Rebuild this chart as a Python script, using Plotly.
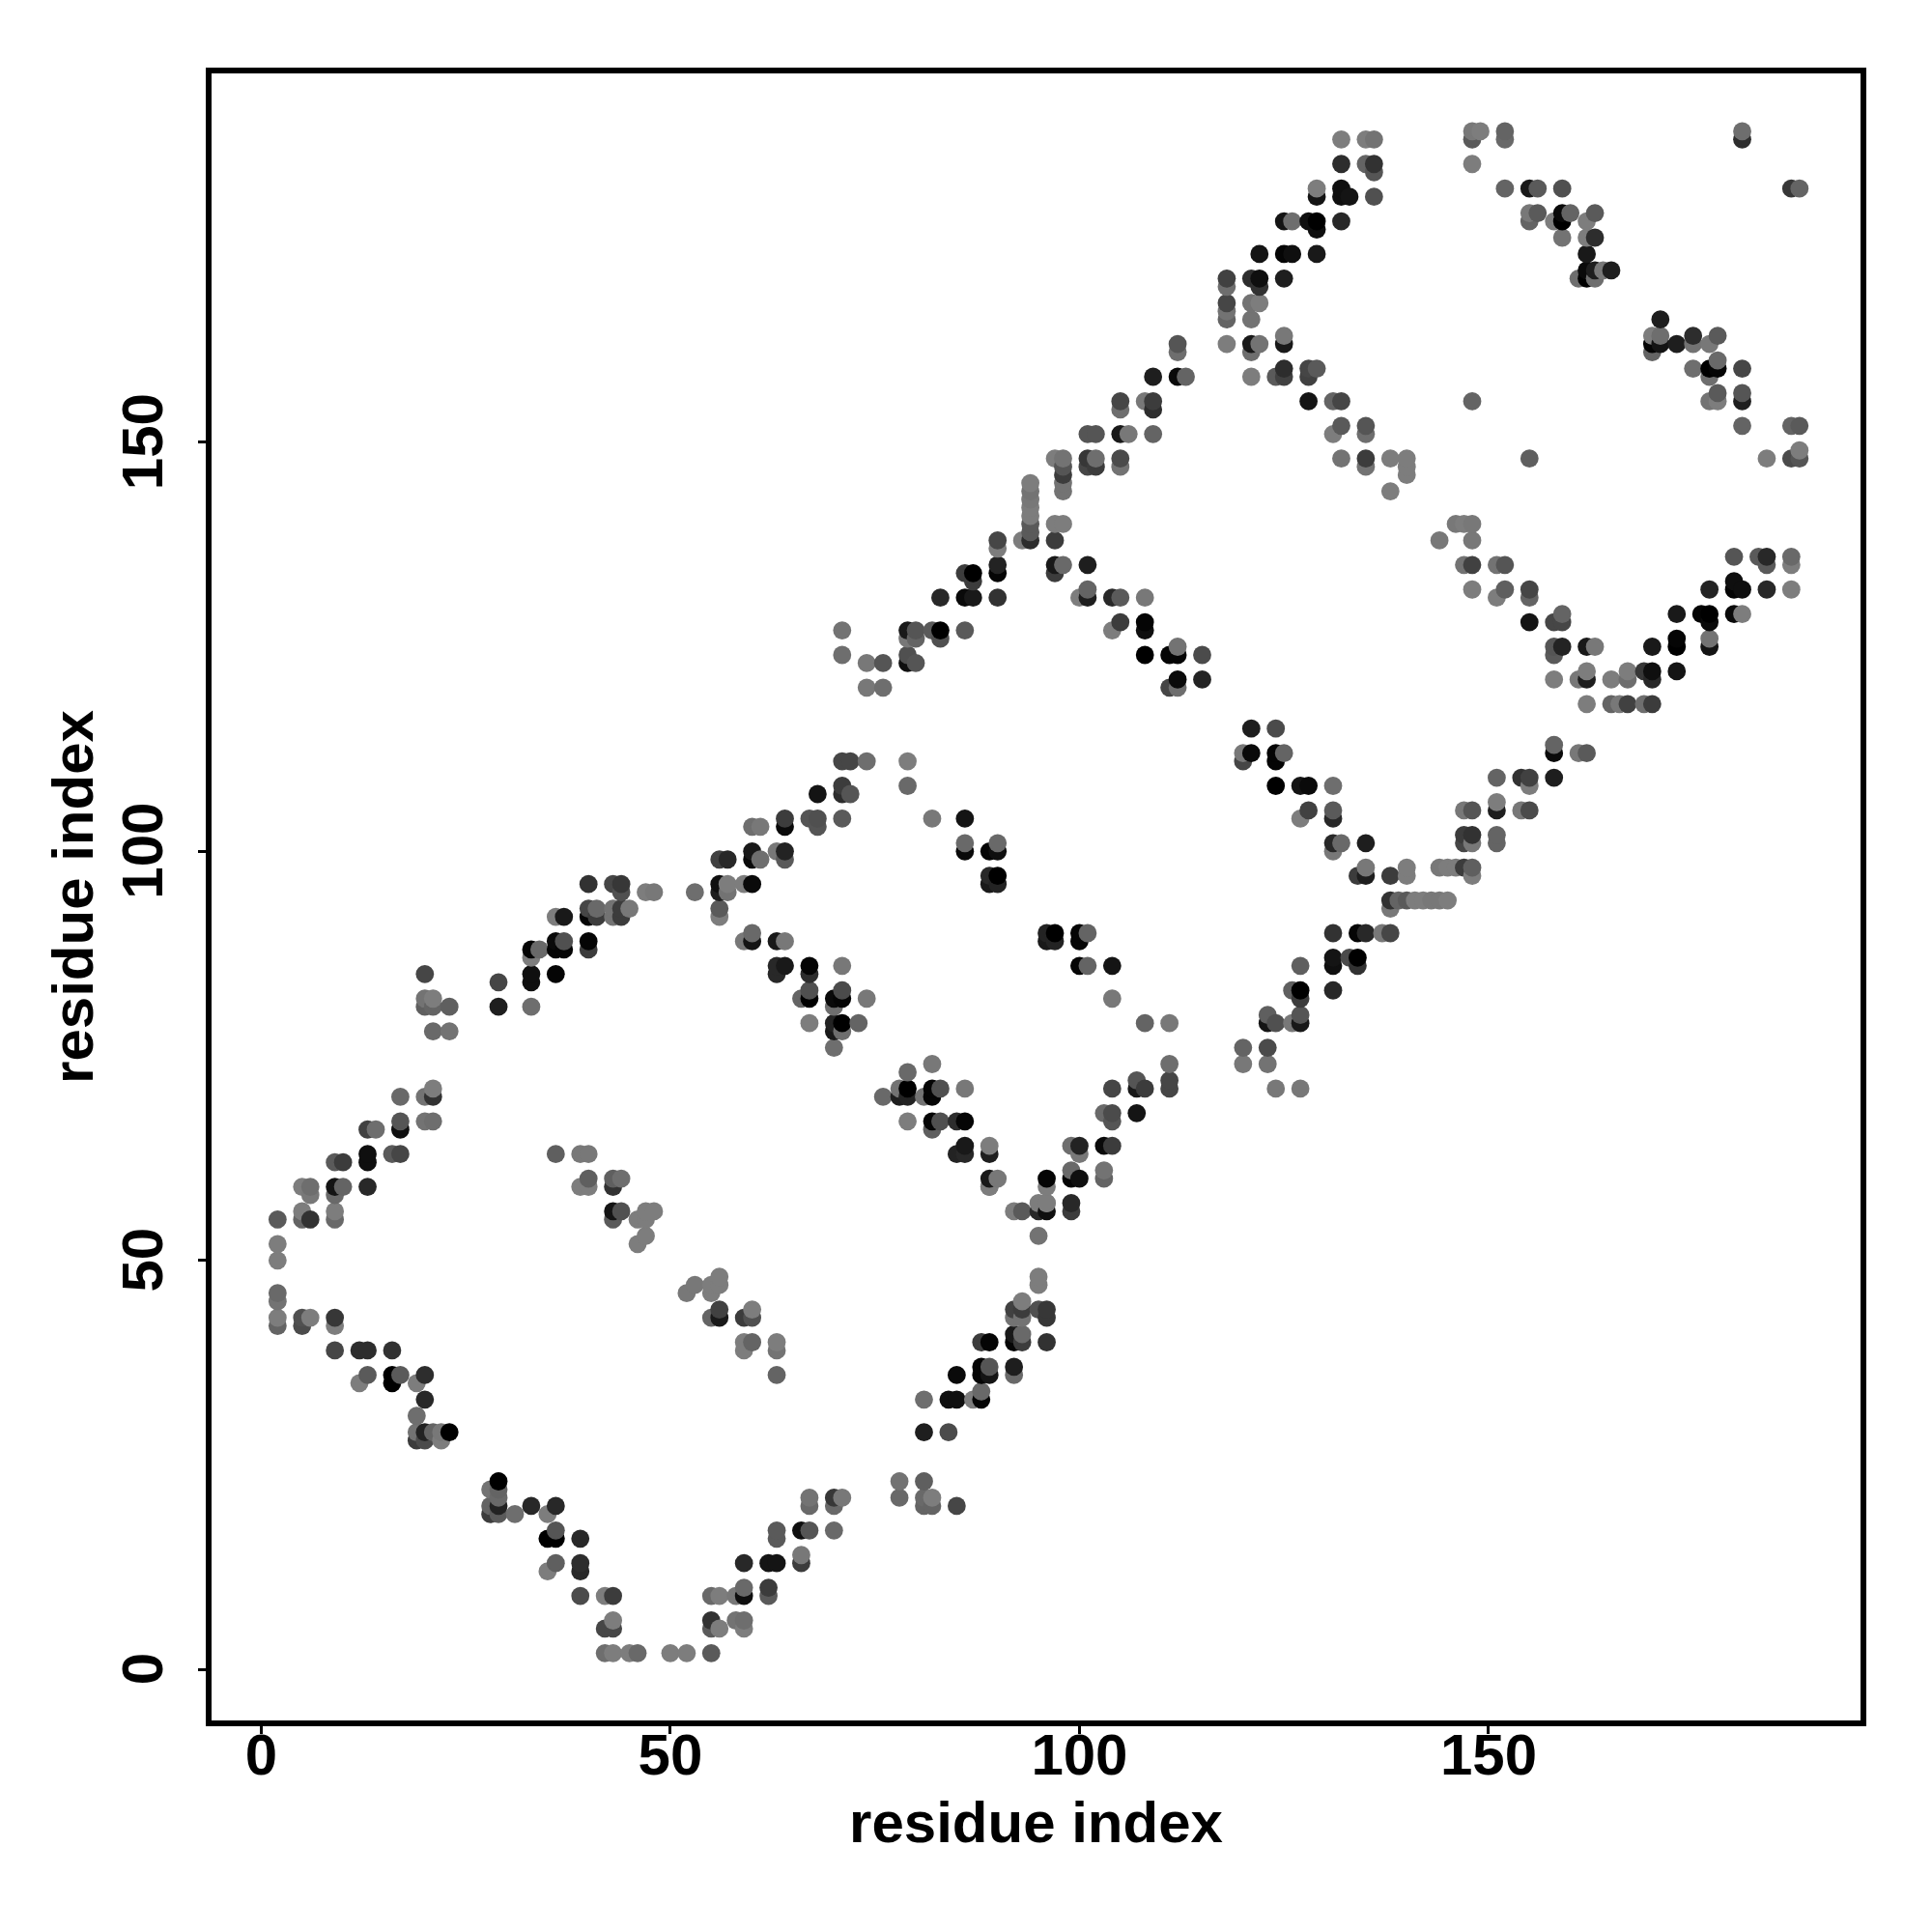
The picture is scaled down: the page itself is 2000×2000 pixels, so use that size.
import numpy as np
import plotly.graph_objects as go

residue_x = [
 42,43,45,46,50,52,55,
 42,43,43,39,42,43,55,56,58,59,59,62,62,55,55,56,58,59,59,
 35,36,39,39,35,36,36,39,
 28,29,31,35,28,29,33,36,29,28,29,29,
 23,21,20,19,22,19,20,22,19,20,
 12,16,19,13,16,17,20,9,12,13,16,
 2,5,9,2,5,6,9,2,2,2,2,2,5,6,9,5,9,
 43,44,43,46,47,48,47,47,46,
 52,53,55,55,56,56,55,56,56,
 59,60,60,59,60,59,63,63,63,
 78,78,81,81,81,82,82,85,
 81,84,81,84,85,87,88,88,
 85,88,88,89,89,92,92,
 88,89,92,92,93,93,96,
 92,92,93,93,93,95,96,96,
 95,95,95,92,93,95,96,95,96,99,99,
 59,62,63,66,66,63,63,66,67,70,67,67,70,71,70,
 5,6,6,9,10,9,13,9,10,13,13,16,17,
 13,14,17,17,17,20,21,20,21,21,
 21,23,20,21,23,20,21,20,
 29,29,33,33,33,33,33,34,36,36,36,37,37,40,40,
 36,37,40,40,41,41,43,43,44,44,45,
 40,43,44,44,47,48,53,
 56,56,57,57,56,56,56,57,
 36,39,40,40,39,40,43,44,43,
 71,72,74,79,79,68,71,71,72,
 67,68,68,71,64,64,60,61,
 60,60,61,63,64,64,59,60,
 82,86,86,86,89,90,90,89,90,89,90,
 96,97,96,97,100,101,100,100,101,104,104,108,111,
 111,111,111,107,107,108,104,107,103,104,104,
 103,104,99,100,100,103,103,99,99,100,96,96,96,89,
 59,60,60,63,64,63,64,63,67,67,71,
 66,67,67,70,71,71,74,70,
 67,70,71,70,71,73,70,
 79,82,76,78,78,79,79,81,82,82,83,86,
 79,82,83,82,85,86,85,86,86,89,89,89,90,89,
 120,120,123,123,124,127,123,123,124,126,127,127,126,127,127,127,
 121,124,120,121,120,124,124,125,
 124,127,128,131,127,128,131,131,
 131,132,131,135,134,135,135,138,140,140,
 138,138,139,140,141,142,143,144,145,
 144,145,146,147,148,148,
 147,147,148,148,151,151,
 147,148,151,151,154,155,
 151,154,155,155,158,158,158,161,162,
 162,165,166,167,169,170,
 131,134,135,137,138,131,131,133,134,134,131,
 71,71,74,76,74,76,79,79,80,
 79,79,80,80,82,83,83,86,
 83,86,87,90,86,87,87,90,90,90,90,
 93,94,94,94,94,94,94,94,94,
 97,97,98,97,98,97,101,
 100,101,101,104,105,108,
 104,105,108,108,108,111,112,112,115,
 111,112,112,115,
 101,102,105,106,109,97,98,98,98,98,98,
 101,101,102,102,105,105,
 105,105,108,109,109,109,112,113,112,112,
 132,135,136,132,135,136,136,
 129,129,132,132,133,136,
 125,126,128,129,129,132,
 122,125,126,129,
 118,118,121,122,122,125,
 118,118,118,121,122,121,
 118,121,122,121,125,125,
 121,124,125,125,128,128,129,
 128,131,132,132,131,135,135,
 132,135,135,138,140,140,140,138,
 148,148,149,152,152,148,
 152,155,156,159,
 155,156,155,158,159,159,160,162,163,
 159,162,163,162,162,161,162,163,163,164,165,
 148,155,181,181,187,188,
 171,170,171,170,171,173,175,175,177,178,170,
 175,177,178,178,181,177,
 177,178,178,181,181,
 181,187,188,184,187,188,188,
 146,147,148,144,148,
 147,148,151,152,
 148,151,152,155,155,
 155,158,159,159,
 158,159,158,162,163,
 158,161,162,162,165,167,167,
 169,170,170,173,
 170,173,173,
 173,176,177,177,177,177,
 177,180,180,181,184,187,
 180,181,
 180,183,184,184,187,187,
]
residue_y = [
 2,2,2,2,2,2,2,
 5,5,6,9,9,9,9,9,9,9,10,10,9,6,5,5,6,6,5,
 12,13,12,13,16,16,17,16,
 19,19,19,19,20,20,20,20,21,22,22,23,
 29,29,29,29,29,28,28,28,31,33,
 35,35,35,36,36,36,36,39,39,39,39,
 42,42,42,43,43,43,43,45,46,50,52,55,55,55,55,56,56,
 56,56,55,55,56,56,55,53,52,
 46,47,46,47,48,47,43,43,44,
 43,43,44,40,40,39,40,39,36,
 23,21,23,21,20,21,20,20,
 29,29,33,33,33,33,33,34,
 36,37,36,36,37,37,36,
 40,40,41,40,40,41,40,
 43,44,43,44,45,44,44,43,
 48,47,53,56,56,56,56,57,57,57,56,
 13,13,13,13,14,17,16,17,17,17,21,20,21,21,20,
 59,59,58,59,59,58,59,62,62,63,62,63,63,
 66,66,66,67,70,67,67,70,70,71,
 78,78,81,81,81,82,82,85,
 81,84,81,84,85,87,88,88,85,88,89,88,89,88,89,
 92,92,92,93,92,93,92,93,93,92,93,
 96,96,96,95,95,95,95,
 95,96,96,95,93,92,99,99,
 63,63,63,60,59,59,60,60,59,
 111,111,111,111,108,107,108,107,107,
 104,104,103,104,104,103,103,103,
 100,99,99,100,100,99,96,96,
 104,104,101,100,100,100,101,97,97,96,96,
 90,90,89,89,90,90,89,86,86,86,82,79,79,
 74,72,71,72,71,71,71,68,68,68,67,
 64,64,64,64,63,61,60,61,60,60,60,59,57,59,
 89,89,90,89,89,86,86,85,86,85,86,
 82,82,83,82,82,83,82,81,
 79,79,79,78,78,79,76,
 73,74,70,71,70,71,70,70,71,70,71,71,
 67,67,67,66,67,67,63,64,63,64,63,60,60,59,
 76,74,76,74,71,71,80,79,79,79,80,79,83,83,82,86,
 115,115,112,112,111,112,111,112,
 108,108,108,108,104,105,104,105,
 101,101,100,101,97,97,98,97,98,97,
 94,93,94,94,94,94,94,94,94,
 98,98,98,98,98,97,
 102,101,101,102,102,101,
 105,105,105,106,105,105,
 109,109,109,108,109,112,113,112,112,
 118,118,118,118,118,118,
 90,90,90,90,90,87,86,87,87,86,83,
 127,124,123,123,120,120,123,124,123,
 127,126,127,126,127,127,126,127,
 131,131,131,131,134,134,133,134,135,138,137,
 138,138,139,140,141,142,143,144,145,
 138,140,140,135,135,134,135,
 131,131,132,131,131,131,
 127,128,128,127,124,124,124,125,124,
 120,121,120,121,
 151,151,151,151,151,148,147,146,145,144,148,
 148,147,148,147,148,147,
 155,154,155,155,154,158,158,158,162,161,
 187,187,187,184,184,184,183,
 181,180,181,180,180,180,
 177,177,177,177,176,177,
 173,173,173,173,
 170,169,170,170,169,170,
 167,166,165,167,167,165,
 162,162,162,161,162,163,
 158,158,158,159,158,159,159,
 155,155,155,152,151,152,151,
 148,148,147,148,148,147,146,144,
 188,187,188,188,187,184,
 181,181,181,181,
 178,178,177,177,178,177,178,177,178,
 175,175,175,173,171,170,170,170,171,171,171,
 155,148,188,187,181,181,
 165,163,163,162,162,162,163,162,162,163,161,
 159,159,159,160,159,158,
 155,156,155,156,155,
 152,152,152,148,148,148,149,
 140,140,140,138,138,
 135,135,135,135,
 132,131,132,132,131,
 128,128,128,129,
 125,125,124,125,125,
 121,121,121,122,121,121,122,
 122,122,121,122,
 125,125,126,
 129,129,129,128,126,125,
 132,132,133,132,132,132,
 129,129,
 136,136,136,135,136,135,
]
gray_level = [
 110,125,125,105,125,125,90,
 70,70,125,75,125,60,105,125,120,15,105,60,90,50,90,125,115,110,125,
 125,95,40,45,0,0,85,40,
 60,90,110,125,100,35,40,40,105,115,100,0,
 0,100,35,115,120,60,75,125,110,40,
 125,0,125,90,0,90,45,70,45,45,50,
 100,75,125,125,80,125,55,115,105,125,125,90,100,50,105,125,125,
 20,80,90,125,125,125,125,125,125,
 120,120,125,125,125,125,100,25,65,
 60,80,125,125,100,125,125,115,100,
 115,105,95,105,100,125,100,70,
 30,75,110,15,15,125,5,105,
 10,5,5,20,85,30,105,
 60,5,25,5,60,105,50,
 115,65,115,60,125,80,55,55,
 125,125,115,125,90,40,15,125,125,40,60,
 40,20,20,60,120,90,90,15,85,105,115,105,55,120,105,
 125,110,120,20,100,105,40,90,60,15,15,90,70,
 65,110,15,85,105,115,110,115,50,125,
 105,115,95,100,95,115,125,70,
 30,70,110,15,15,125,5,105,5,5,10,5,80,60,5,
 125,25,5,70,60,105,115,115,60,60,120,
 50,70,55,80,125,120,110,
 30,15,125,115,90,125,65,40,
 95,120,120,95,125,125,95,110,50,
 70,70,110,125,105,20,60,45,85,
 85,80,85,90,60,10,110,120,
 25,10,110,120,35,90,125,10,
 120,20,105,10,5,15,105,40,0,25,35,
 35,0,25,35,5,100,5,5,100,20,120,100,120,
 110,70,70,85,25,60,70,20,105,75,85,
 10,60,110,35,120,115,100,105,5,15,5,125,125,125,
 120,20,105,25,120,40,25,40,5,45,120,
 100,0,80,10,5,75,120,110,
 125,35,0,25,110,100,110,
 105,120,105,115,30,0,35,115,5,5,80,120,
 125,5,80,95,45,5,35,25,40,125,30,25,120,125,
 100,120,75,115,120,120,95,20,80,120,85,25,95,0,60,95,
 30,75,120,10,70,5,5,100,
 0,20,10,110,125,65,40,90,
 40,105,120,30,60,30,120,60,125,125,
 50,120,100,90,125,125,120,120,125,
 120,125,125,60,95,125,
 60,70,120,50,100,100,
 120,85,30,125,120,75,
 100,50,65,125,30,10,100,120,90,
 125,100,120,65,110,60,
 50,5,40,120,70,20,15,75,0,50,40,
 115,110,120,85,120,110,15,80,85,
 25,120,85,100,90,0,80,90,
 40,10,25,50,60,0,60,5,35,70,125,
 125,45,90,90,125,125,120,115,125,
 60,125,125,25,105,60,30,
 125,30,100,40,90,120,
 125,60,5,15,0,5,5,115,75,
 70,10,110,35,
 85,85,25,120,100,125,85,60,115,115,115,
 55,70,110,60,75,115,
 70,110,120,60,45,30,10,100,85,110,
 125,125,115,45,100,50,85,
 125,20,15,15,20,80,
 20,110,15,0,15,40,
 20,5,15,25,
 65,110,45,15,50,30,
 70,115,100,115,125,115,
 125,25,115,110,25,120,
 125,90,65,45,65,70,90,
 20,100,70,90,125,85,110,
 115,60,115,125,125,125,125,125,
 120,90,125,100,105,125,
 100,25,90,80,
 120,90,100,125,10,0,100,125,90,
 115,125,45,25,10,110,0,110,30,120,30,
 100,95,110,45,55,100,
 30,125,110,5,20,30,45,115,120,90,100,
 110,0,5,105,70,110,
 115,90,125,85,30,
 100,100,90,125,75,85,125,
 120,125,120,120,120,
 115,65,115,85,
 125,125,95,70,100,
 20,70,70,100,
 85,35,90,25,120,
 125,120,30,125,125,110,125,
 55,15,40,20,
 25,0,5,
 25,5,0,10,115,20,
 35,5,15,15,40,125,
 10,125,
 85,90,40,90,105,125,
]

tick_values = [0, 50, 100, 150]
tick_labels = ["0", "50", "100", "150"]
axis_title = "residue index"

assert len(residue_x) == len(residue_y) == len(gray_level), (len(residue_x), len(residue_y), len(gray_level))
xs, ys, gs = map(np.array, (residue_x, residue_y, gray_level))
order = np.lexsort((ys, xs))
colors = [f"rgb({g},{g},{g})" for g in gs[order]]

fig = go.Figure(go.Scatter(
    x=xs[order], y=ys[order], mode="markers",
    marker=dict(size=18.8, color=colors, line=dict(width=0)),
))
font = dict(family="Liberation Sans", size=60, color="black", weight="bold")
title_font = dict(family="Liberation Sans", size=60, color="black", weight="bold")
axis = dict(
    tickmode="array", tickvals=tick_values,
    showgrid=False, zeroline=False, showline=True, mirror=True,
    linecolor="black", linewidth=6,
    ticks="outside", ticklen=8, tickwidth=2.5, tickcolor="black",
    tickfont=font, automargin=False,
)
fig.update_layout(
    width=2000, height=2000, autosize=False, showlegend=False,
    paper_bgcolor="white", plot_bgcolor="white",
    margin=dict(l=219, r=74, t=76, b=219, pad=0),
    xaxis=dict(axis, range=[-6.07, 195.46], ticklabelstandoff=-30, ticktext=tick_labels,
               title=dict(text=axis_title, font=title_font, standoff=18)),
    yaxis=dict(axis, range=[-6.22, 195.07], tickangle=-90, ticklabelstandoff=13,
               ticktext=[t + "\u00a0" for t in tick_labels],
               title=dict(text=axis_title, font=title_font, standoff=0)),
)
fig.write_html("out.html", config={"displayModeBar": False},
               post_script="document.body.style.margin='0';")
